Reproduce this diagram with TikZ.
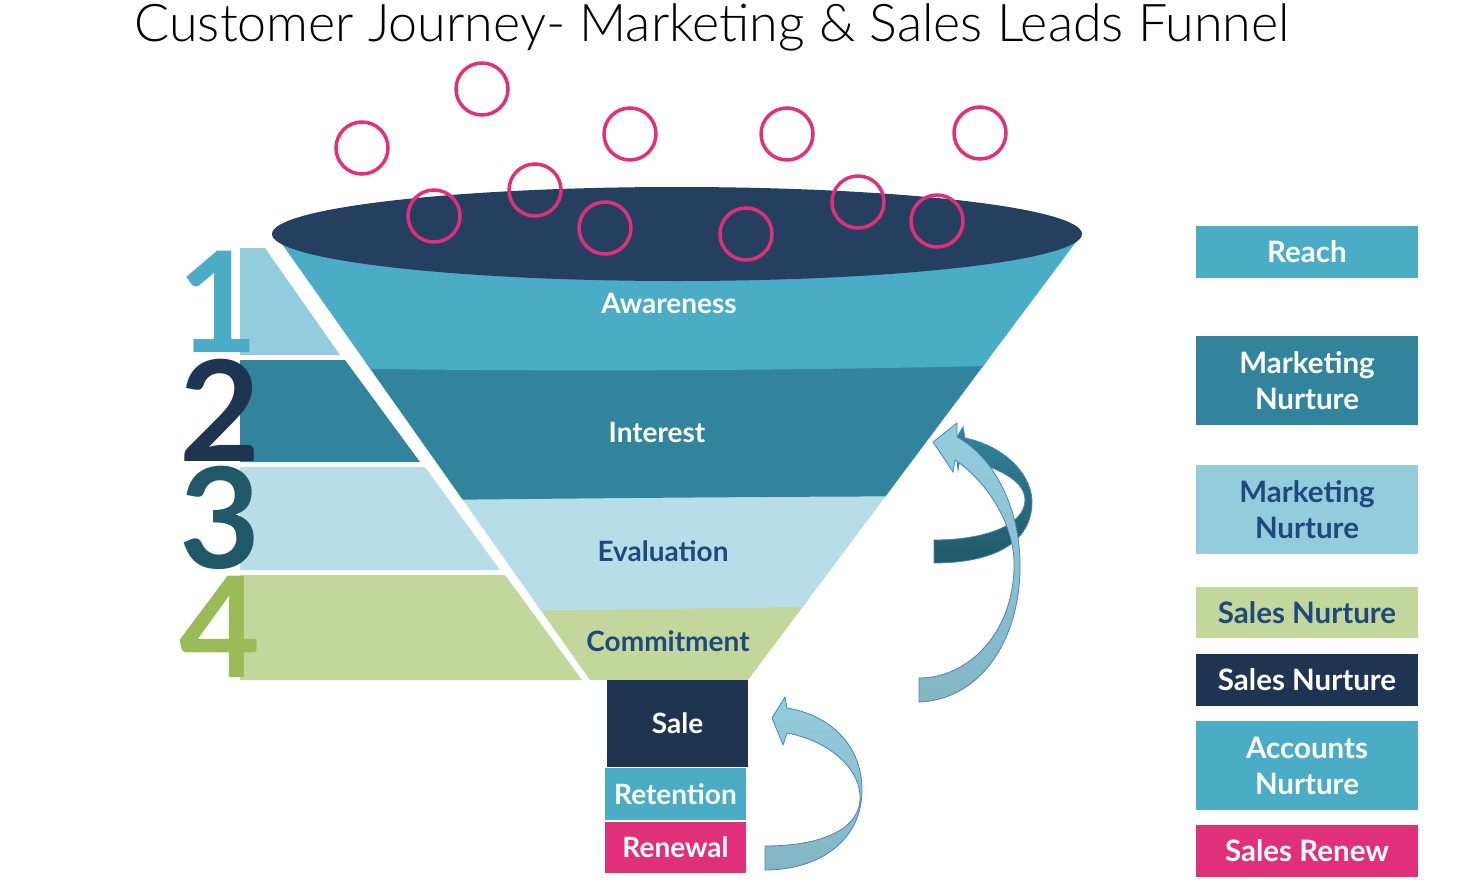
\documentclass[tikz,border=0pt]{standalone}
\usepackage{fontspec}
\setmainfont{Lato}
\newfontfamily\latolight{Lato Light}
\begin{document}
\begin{tikzpicture}[x=1pt,y=-1pt,
  lbl/.style={font=\fontsize{28}{30}\selectfont\bfseries},
  rbox/.style={minimum width=222pt,inner sep=0pt,align=center,font=\fontsize{29.5}{36}\selectfont\bfseries},
  ring/.style={draw=cMag,line width=3.5pt,circle,minimum size=52pt,inner sep=0pt},
  digit/.style={font=\fontsize{140}{140}\selectfont\bfseries,inner sep=0pt,text height=100pt,text depth=0pt},
  arr/.style={draw=cEdge,line width=0.8pt}]
\definecolor{cAw}{HTML}{4BACC6}\definecolor{cIn}{HTML}{31849B}
\definecolor{cEv}{HTML}{B7DEE8}\definecolor{cCo}{HTML}{C3D69B}
\definecolor{cTop}{HTML}{243F60}\definecolor{cDark}{HTML}{1F3450}
\definecolor{cMag}{HTML}{E0307A}\definecolor{cLt}{HTML}{93CDDD}
\definecolor{cTx}{HTML}{1F497D}\definecolor{cD3}{HTML}{215868}
\definecolor{cG}{HTML}{9BBB59}\definecolor{cEdge}{HTML}{4F81BD}
\useasboundingbox (0,0) rectangle (1482,886);
\node[font=\latolight\fontsize{52}{52}\selectfont] (title) at (712,27) {Customer Journey- Marketing \& Sales Leads Funnel};
% left bands
\fill[cLt] (240,248) -- (265,248) -- (340,355) -- (240,355) -- cycle;
\fill[cIn] (240,360) -- (345,360) -- (420,462) -- (240,462) -- cycle;
\fill[cEv] (240,467) -- (425,467) -- (500,570) -- (240,570) -- cycle;
\fill[cCo] (240,575) -- (505,575) -- (582,680) -- (240,680) -- cycle;
\node[digit,text=cAw] (d1) at (218,302) {1};
\node[digit,text=cDark] (d2) at (220,411) {2};
\node[digit,text=cD3] (d3) at (220,518) {3};
\node[digit,text=cG] (d4) at (220,627) {4};
% funnel
\begin{scope}
\clip (275,234) -- (1082,234) -- (748,680) -- (590,680) -- cycle;
\fill[cCo] (250,600) rectangle (1100,700);
\fill[cEv] (250,480) -- (1100,480) -- (1100,605) .. controls (800,605) and (600,612) .. (250,612) -- cycle;
\fill[cIn] (250,360) -- (1100,360) -- (1100,496) .. controls (800,496) and (600,498) .. (250,502) -- cycle;
\fill[cAw] (250,220) -- (1100,220) -- (1100,363) .. controls (800,372) and (500,372) .. (250,367) -- cycle;
\end{scope}
\fill[cTop] (677,234) ellipse [x radius=405, y radius=47];
\node[lbl,text=white] (aw) at (669,303) {Awareness};
\node[lbl,text=white] (in) at (657,432) {Interest};
\node[lbl,text=cTx] (ev) at (663,551) {Evaluation};
\node[lbl,text=cTx] (co) at (668,641) {Commitment};
% stacked boxes
\node[lbl,fill=cDark,text=white,minimum width=141pt,minimum height=87pt,inner sep=0pt] (sale) at (677.5,723.5) {Sale};
\node[lbl,fill=cAw,text=white,minimum width=141pt,minimum height=52pt,inner sep=0pt] (ret) at (675.5,794) {Retention};
\node[lbl,fill=cMag,text=white,minimum width=141pt,minimum height=51pt,inner sep=0pt] (ren) at (675.5,847.5) {Renewal};
% rings
\foreach \n/\x/\y in {r1/362/148,r2/482/89,r3/630/134,r4/787/134,r5/980/133,r6/434/216,r7/535/190,r8/605/228,r9/746/234,r10/858/202,r11/937/221}
  \node[ring] (\n) at (\x,\y) {};
% right boxes
\node[rbox,fill=cAw,text=white,minimum height=52pt] (b1) at (1307,252) {Reach};
\node[rbox,fill=cIn,text=white,minimum height=89pt] (b2) at (1307,380.5) {Marketing\\Nurture};
\node[rbox,fill=cLt,text=cTx,minimum height=89pt] (b3) at (1307,509.5) {Marketing\\Nurture};
\node[rbox,fill=cCo,text=cTx,minimum height=51pt] (b4) at (1307,612.5) {Sales Nurture};
\node[rbox,fill=cDark,text=white,minimum height=52pt] (b5) at (1307,680) {Sales Nurture};
\node[rbox,fill=cAw,text=white,minimum height=89pt] (b6) at (1307,765.5) {Accounts\\Nurture};
\node[rbox,fill=cMag,text=white,minimum height=52pt] (b7) at (1307,851) {Sales Renew};
% arrows
\shade[arr,top color=cIn,bottom color=cD3] (934,563) .. controls (990,563) and (1033,545) .. (1032,500) .. controls (1030,470) and (1000,445) .. (965,438) -- (963,427) -- (955,440) -- (958,470) -- (960,458) .. controls (990,465) and (1025,478) .. (1025,500) .. controls (1025,525) and (985,540) .. (934,540) -- cycle;
\shade[arr,top color=cLt,bottom color=cIn!60!white] (919,702) .. controls (980,700) and (1022,640) .. (1020,560) .. controls (1018,500) and (990,455) .. (957,437) -- (957,423) -- (933,442) -- (953,472) -- (955,460) .. controls (985,480) and (1012,520) .. (1014,560) .. controls (1016,630) and (970,678) .. (919,678) -- cycle;
\shade[arr,top color=cLt,bottom color=cIn!60!white] (765,870) .. controls (820,870) and (862,840) .. (862,790) .. controls (862,745) and (830,715) .. (787,708) -- (785,697) -- (772,718) -- (783,745) -- (787,733) .. controls (825,740) and (858,765) .. (860,795) .. controls (862,830) and (820,846) .. (765,846) -- cycle;
\end{tikzpicture}
\end{document}
